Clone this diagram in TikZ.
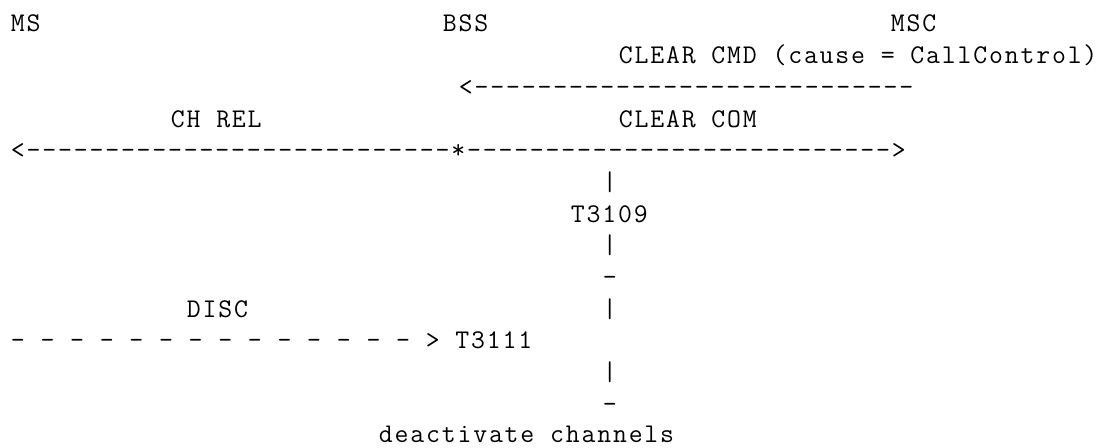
\documentclass[tikz,border=0pt]{standalone}
\usepackage{fontspec}
\setmonofont{Latin Modern Mono}[LetterSpace=6.76]
\begin{document}
\begin{tikzpicture}[x=1pt,y=1pt,
  txt/.style={anchor=base west, inner sep=0pt, outer sep=0pt,
    font=\ttfamily\fontsize{27}{31}\selectfont, text=black, text depth=0pt}]
\useasboundingbox (0,0) rectangle (1113,447);
% row 1
\node[txt] (ms)  at (10.9,415) {MS};
\node[txt] (bss) at (442.9,415) {BSS};
\node[txt] (msc) at (890.9,415) {MSC};
% row 2
\node[txt] (clearcmd) at (618.9,383.3) {CLEAR CMD (cause = CallControl)};
% row 3
\node[txt] (cmdarrow) at (458.9,351.6) {<----------------------------};
% row 4
\node[txt] (chrel) at (170.9,319.9) {CH REL};
\node[txt] (clearcom) at (618.9,319.9) {CLEAR COM};
% row 5
\node[txt] (relarrow) at (10.9,288.2) {<---------------------------*--------------------------->};
% rows 6-9
\node[txt] (bar1) at (602.9,256.5) {|};
\node[txt] (t3109) at (570.9,224.8) {T3109};
\node[txt] (bar2) at (602.9,193.1) {|};
\node[txt] (end1) at (602.9,161.4) {-};
% row 10
\node[txt] (disc) at (186.9,129.7) {DISC};
\node[txt] (bar3) at (602.9,129.7) {|};
% row 11
\node[txt] (discarrow) at (10.9,98.0) {- - - - - - - - - - - - - - > T3111};
% rows 12-14
\node[txt] (bar4) at (602.9,66.3) {|};
\node[txt] (end2) at (602.9,34.6) {-};
\node[txt] (deact) at (378.9,4.8) {deactivate channels};
\end{tikzpicture}
\end{document}
